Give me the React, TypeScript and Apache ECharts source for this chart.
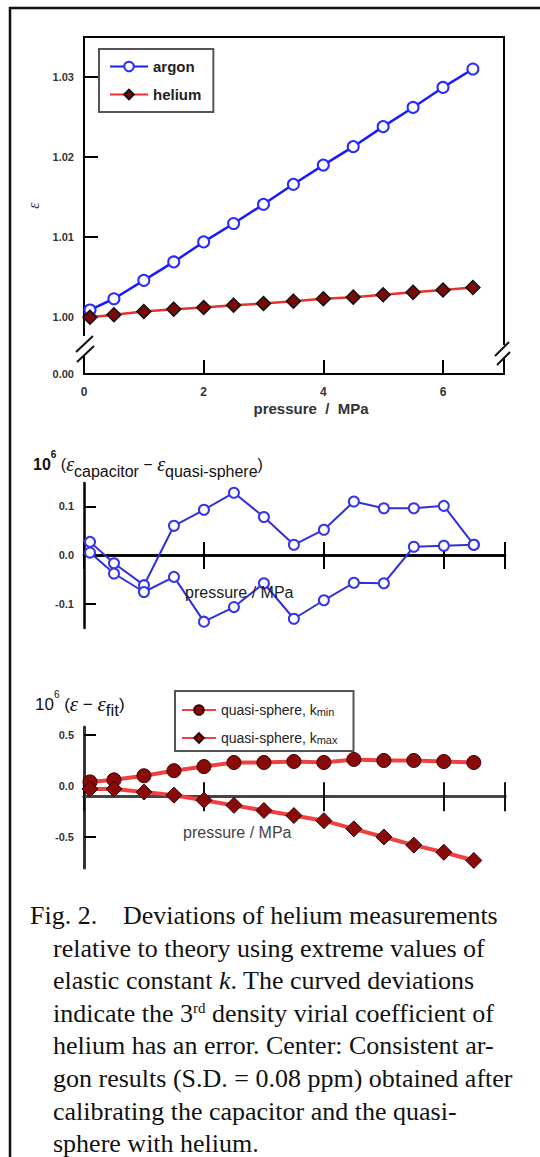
import React, { useEffect, useRef } from "react";
import * as echarts from "echarts";

const pressure = [0.1, 0.5, 1.0, 1.5, 2.0, 2.5, 3.0, 3.5, 4.0, 4.5, 5.0, 5.5, 6.0, 6.5];
const argonEps = [1.0009, 1.0023, 1.0046, 1.0069, 1.0094, 1.0117, 1.0141, 1.0166, 1.019, 1.0213, 1.0238, 1.0262, 1.0287, 1.031];
const heliumEps = [1.0, 1.0003, 1.0007, 1.001, 1.0012, 1.0015, 1.0017, 1.002, 1.0023, 1.0025, 1.0028, 1.0031, 1.0034, 1.0037];
const argonDevA = [0.027, -0.017, -0.062, 0.06, 0.093, 0.128, 0.078, 0.021, 0.052, 0.11, 0.096, 0.096, 0.101, 0.021];
const argonDevB = [0.005, -0.038, -0.076, -0.045, -0.137, -0.107, -0.058, -0.131, -0.093, -0.057, -0.058, 0.017, 0.019, 0.021];
const heliumDevKmin = [0.04, 0.06, 0.1, 0.15, 0.19, 0.23, 0.23, 0.24, 0.23, 0.26, 0.25, 0.25, 0.24, 0.23];
const heliumDevKmax = [-0.03, -0.03, -0.06, -0.09, -0.14, -0.19, -0.24, -0.29, -0.34, -0.42, -0.5, -0.58, -0.65, -0.73];

const topTicks = [1.0, 1.01, 1.02, 1.03];
const midTicks = [-0.1, 0, 0.1];
const botTicks = [-0.5, 0, 0.5];
const xTickLabels = ["0", "2", "4", "6"];

const captionLines = [
  "relative to theory using extreme values of",
  "elastic constant {i|k}. The curved deviations",
  "indicate the 3{sup|rd} density virial coefficient of",
  "helium has an error. Center: Consistent ar-",
  "gon results (S.D. = 0.08 ppm) obtained after",
  "calibrating the capacitor and the quasi-",
  "sphere with helium.",
];

const SANS = "'Liberation Sans', Arial, sans-serif";
const SERIF = "'Liberation Serif', 'Times New Roman', serif";

function pairs(ys: number[]) {
  return pressure.map((x, i) => [x, ys[i]]);
}

export default function App() {
  const ref = useRef<HTMLDivElement>(null);
  useEffect(() => {
    if (!ref.current) return;
    const chart = echarts.init(ref.current, null, { renderer: "svg" });
    const topMin = 0.9929;
    const axisText = { fontFamily: SANS, fontSize: 11, color: "#333", fontWeight: "bold" as const };
    const xBase = (grid: number) => ({
      type: "value" as const,
      gridIndex: grid,
      min: 0,
      max: 7.02,
      interval: 2,
      splitLine: { show: false },
    });
    const titleRich = (bold: boolean, big: number) => ({
      b: { fontFamily: SANS, fontSize: big, fontWeight: bold ? "bold" : "normal", lineHeight: 30, fill: "#111" },
      sup: { fontFamily: SANS, fontSize: 10, fontWeight: bold ? "bold" : "normal", lineHeight: 17, verticalAlign: "top", fill: "#111" },
      n: { fontFamily: SANS, fontSize: big, lineHeight: 30, fill: "#111" },
      e: { fontFamily: SERIF, fontSize: big + 4, fontStyle: "italic", lineHeight: 30, fill: "#111" },
      sub: { fontFamily: SANS, fontSize: big, lineHeight: 19, verticalAlign: "bottom", fill: "#111" },
    });
    const option: any = {
      animation: false,
      backgroundColor: "#fff",
      grid: [
        { left: 84, top: 37, width: 420, height: 337, show: true, borderColor: "#000", borderWidth: 2 },
        { left: 84, top: 483, width: 421, height: 145 },
        { left: 84, top: 727, width: 421, height: 141 },
      ],
      legend: [
        {
          data: ["argon", "helium"],
          left: 99,
          top: 49,
          orient: "vertical",
          padding: [10, 12, 10, 10],
          itemGap: 13,
          itemWidth: 38,
          itemHeight: 12,
          borderColor: "#555",
          borderWidth: 2,
          textStyle: { fontFamily: SANS, fontSize: 15, fontWeight: "bold", color: "#222" },
        },
        {
          data: ["kmin", "kmax"],
          left: 175,
          top: 691,
          orient: "vertical",
          padding: [8, 16, 6, 6],
          itemGap: 10,
          itemWidth: 34,
          itemHeight: 12,
          borderColor: "#555",
          borderWidth: 2,
          formatter: (n: string) => (n === "kmin" ? "quasi-sphere, k{s|min}" : "quasi-sphere, k{s|max}"),
          textStyle: {
            fontFamily: SANS,
            fontSize: 14,
            color: "#222",
            rich: { s: { fontFamily: SANS, fontSize: 11, color: "#222", verticalAlign: "bottom", lineHeight: 8, padding: [7, 0, 0, 0] } },
          },
        },
      ],
      xAxis: [
        {
          ...xBase(0),
          axisLine: { onZero: false, lineStyle: { color: "#000", width: 2 } },
          axisTick: { inside: true, length: 14, lineStyle: { color: "#000", width: 2 } },
          axisLabel: { ...axisText, fontSize: 12, margin: 12, formatter: (v: number) => xTickLabels[v / 2] ?? "" },
          name: "pressure  /  MPa",
          nameLocation: "middle",
          nameGap: 27,
          nameTextStyle: { fontFamily: SANS, fontSize: 15, fontWeight: "bold", color: "#333", padding: [0, 0, 0, 34] },
        },
        {
          ...xBase(1),
          axisLine: { onZero: true, onZeroAxisIndex: 1, lineStyle: { color: "#000", width: 2.5 } },
          axisTick: { inside: true, length: 13, lineStyle: { color: "#000", width: 2 } },
          axisLabel: { show: false },
        },
        {
          ...xBase(1),
          position: "bottom",
          axisLine: { onZero: true, onZeroAxisIndex: 1, lineStyle: { color: "#000", width: 2.5 } },
          axisTick: { inside: false, length: 14, lineStyle: { color: "#000", width: 2 } },
          axisLabel: { show: false },
        },
        {
          ...xBase(2),
          axisLine: { onZero: true, onZeroAxisIndex: 3, lineStyle: { color: "#444", width: 3 } },
          axisTick: { inside: true, length: 14, lineStyle: { color: "#111", width: 2 } },
          axisLabel: { show: false },
        },
        {
          ...xBase(2),
          position: "bottom",
          axisLine: { onZero: true, onZeroAxisIndex: 3, lineStyle: { color: "#444", width: 3 } },
          axisTick: { inside: false, length: 15, lineStyle: { color: "#111", width: 2 } },
          axisLabel: { show: false },
        },
      ],
      yAxis: [
        {
          type: "value",
          gridIndex: 0,
          min: topMin,
          max: 1.035,
          splitLine: { show: false },
          axisLine: { onZero: false, lineStyle: { color: "#000", width: 2 } },
          axisTick: { inside: true, length: 14, customValues: topTicks, lineStyle: { color: "#000", width: 2 } },
          axisLabel: {
            ...axisText,
            margin: 10,
            customValues: [topMin, ...topTicks],
            formatter: (v: number) => (v < 0.995 ? "0.00" : v.toFixed(2)),
          },
          name: "ε",
          nameLocation: "middle",
          nameGap: 42,
          nameRotate: 90,
          nameTextStyle: { fontFamily: SERIF, fontStyle: "italic", fontSize: 16, color: "#333" },
        },
        {
          type: "value",
          gridIndex: 1,
          min: -0.15,
          max: 0.148,
          splitLine: { show: false },
          axisLine: { onZero: false, lineStyle: { color: "#000", width: 2.5 } },
          axisTick: { inside: true, length: 12, customValues: midTicks, lineStyle: { color: "#000", width: 2 } },
          axisLabel: { ...axisText, margin: 10, customValues: midTicks, formatter: (v: number) => v.toFixed(1) },
        },
        {
          type: "value",
          gridIndex: 2,
          min: -0.804,
          max: 0.578,
          splitLine: { show: false },
          axisLine: { onZero: false, lineStyle: { color: "#333", width: 3 } },
          axisTick: { inside: true, length: 12, customValues: botTicks, lineStyle: { color: "#000", width: 2 } },
          axisLabel: { ...axisText, margin: 10, customValues: botTicks, formatter: (v: number) => v.toFixed(1) },
        },
        {
          type: "value",
          gridIndex: 2,
          min: -0.704,
          max: 0.678,
          show: false,
        },
      ],
      series: [
        {
          name: "argon",
          type: "line",
          xAxisIndex: 0,
          yAxisIndex: 0,
          data: pairs(argonEps),
          symbol: "emptyCircle",
          symbolSize: 11,
          lineStyle: { color: "#1a1aff", width: 2.5 },
          itemStyle: { color: "#2a2aff", borderWidth: 2.5 },
          z: 3,
        },
        {
          name: "helium",
          type: "line",
          xAxisIndex: 0,
          yAxisIndex: 0,
          data: pairs(heliumEps),
          symbol: "diamond",
          symbolSize: 14,
          lineStyle: { color: "#e8322c", width: 2.5 },
          itemStyle: { color: "#7a0a0a", borderColor: "#111", borderWidth: 1.5 },
          z: 4,
        },
        {
          name: "devA",
          type: "line",
          xAxisIndex: 1,
          yAxisIndex: 1,
          data: pairs(argonDevA),
          symbol: "emptyCircle",
          symbolSize: 10,
          lineStyle: { color: "#3030d8", width: 2 },
          itemStyle: { color: "#3535ee", borderWidth: 2.5 },
          z: 3,
        },
        {
          name: "devB",
          type: "line",
          xAxisIndex: 1,
          yAxisIndex: 1,
          data: pairs(argonDevB),
          symbol: "emptyCircle",
          symbolSize: 10,
          lineStyle: { color: "#3030d8", width: 2 },
          itemStyle: { color: "#3535ee", borderWidth: 2.5 },
          z: 3,
        },
        {
          name: "kmin",
          type: "line",
          xAxisIndex: 3,
          yAxisIndex: 2,
          data: pairs(heliumDevKmin),
          symbol: "circle",
          symbolSize: 14,
          lineStyle: { color: "#f04040", width: 4 },
          itemStyle: { color: "#8a0a0a", borderColor: "#3a0000", borderWidth: 1 },
          z: 3,
        },
        {
          name: "kmax",
          type: "line",
          xAxisIndex: 3,
          yAxisIndex: 2,
          data: pairs(heliumDevKmax),
          symbol: "diamond",
          symbolSize: 16,
          lineStyle: { color: "#f04040", width: 4 },
          itemStyle: { color: "#8a0a0a", borderColor: "#2a0000", borderWidth: 1 },
          z: 3,
        },
      ],
      graphic: [
        // outer frame
        { type: "rect", z: 100, shape: { x: 10, y: 8, width: 600, height: 1200 }, style: { fill: "none", stroke: "#111", lineWidth: 2.5 } },
        // axis breaks
        { type: "rect", z: 100, shape: { x: 80, y: 336, width: 9, height: 20 }, style: { fill: "#fff" } },
        { type: "line", z: 101, shape: { x1: 76, y1: 352, x2: 93, y2: 336 }, style: { stroke: "#111", lineWidth: 2 } },
        { type: "line", z: 101, shape: { x1: 77, y1: 362, x2: 94, y2: 346 }, style: { stroke: "#111", lineWidth: 2 } },
        { type: "rect", z: 100, shape: { x: 500, y: 345, width: 9, height: 12 }, style: { fill: "#fff" } },
        { type: "line", z: 101, shape: { x1: 495, y1: 356, x2: 509, y2: 342 }, style: { stroke: "#111", lineWidth: 2 } },
        { type: "line", z: 101, shape: { x1: 497, y1: 365, x2: 510, y2: 352 }, style: { stroke: "#111", lineWidth: 2 } },
        // middle title
        {
          type: "text",
          z: 101,
          x: 33,
          y: 464,
          style: {
            text: "{b|10}{sup|6}{n| (}{e|ε}{sub|capacitor}{n| − }{e|ε}{sub|quasi-sphere}{n|)}",
            verticalAlign: "middle",
            fill: "#111",
            rich: titleRich(true, 16),
          },
        },
        {
          type: "text",
          z: 101,
          x: 185,
          y: 592,
          style: { text: "pressure / MPa", fontFamily: SANS, fontSize: 16, fill: "#222", verticalAlign: "middle" },
        },
        // bottom title
        {
          type: "text",
          z: 101,
          x: 35,
          y: 704,
          style: {
            text: "{b|10}{sup|6}{n| (}{e|ε}{n| − }{e|ε}{sub|fit}{n|)}",
            verticalAlign: "middle",
            fill: "#111",
            rich: titleRich(false, 17),
          },
        },
        {
          type: "text",
          z: 101,
          x: 183,
          y: 832,
          style: { text: "pressure / MPa", fontFamily: SANS, fontSize: 16, fill: "#444", verticalAlign: "middle" },
        },
        // caption
        {
          type: "text",
          z: 101,
          x: 30,
          y: 915,
          style: { text: "Fig. 2.", fontFamily: SERIF, fontSize: 26, fill: "#111", verticalAlign: "middle" },
        },
        {
          type: "text",
          z: 101,
          x: 123,
          y: 915,
          style: { text: "Deviations of helium measurements", fontFamily: SERIF, fontSize: 26, fill: "#111", verticalAlign: "middle" },
        },
        ...captionLines.map((t, i) => ({
          type: "text",
          z: 101,
          x: 53,
          y: 948 + i * 32.6,
          style: {
            text: t,
            fontFamily: SERIF,
            fontSize: 26,
            fill: "#111",
            verticalAlign: "middle",
            rich: {
              i: { fontFamily: SERIF, fontSize: 26, fontStyle: "italic", fill: "#111" },
              sup: { fontFamily: SERIF, fontSize: 15, fill: "#111", verticalAlign: "top", lineHeight: 16 },
            },
          },
        })),
      ],
    };
    chart.setOption(option);
    return () => chart.dispose();
  }, []);
  return <div ref={ref} style={{ position: "absolute", left: 0, top: 0, width: 540, height: 1157 }} />;
}
